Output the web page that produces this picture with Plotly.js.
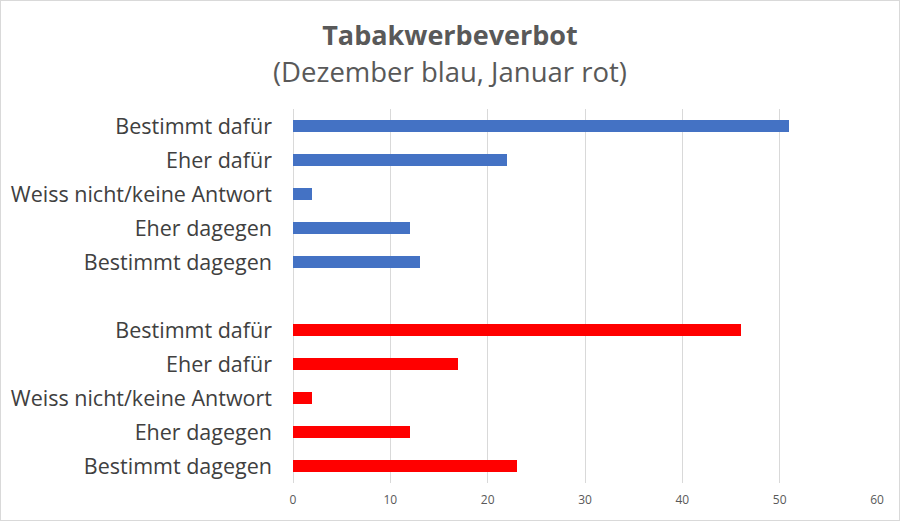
<!DOCTYPE html>
<html>
<head>
<meta charset="utf-8">
<script src="https://cdn.plot.ly/plotly-3.0.1.min.js"></script>
<style>
html,body{margin:0;padding:0;background:#fff;}
#chart{width:900px;height:521px;box-sizing:border-box;border:1px solid #d9d9d9;}
</style>
</head>
<body>
<div id="chart"></div>
<script>
const categories = ["Bestimmt dafür", "Eher dafür", "Weiss nicht/keine Antwort", "Eher dagegen", "Bestimmt dagegen"];
const dezember = [51, 22, 2, 12, 13];
const januar = [46, 17, 2, 12, 23];
const xTicks = [0, 10, 20, 30, 40, 50, 60];

const posDez = categories.map((c, i) => i);
const posJan = categories.map((c, i) => i + categories.length + 1);
const tickvals = posDez.concat(posJan);
const ticktext = categories.concat(categories);

const traces = [
  {type: 'bar', orientation: 'h', name: 'Dezember', x: dezember, y: posDez,
   marker: {color: '#4472C4'}, width: 0.36, hoverinfo: 'x'},
  {type: 'bar', orientation: 'h', name: 'Januar', x: januar, y: posJan,
   marker: {color: '#FF0000'}, width: 0.36, hoverinfo: 'x'}
];

const layout = {
  width: 898, height: 519,
  margin: {l: 292, r: 22, t: 108, b: 37},
  paper_bgcolor: '#fff', plot_bgcolor: '#fff',
  showlegend: false,
  bargap: 0,
  title: {text: '<b>Tabakwerbeverbot</b>', x: 0.5, xref: 'container', xanchor: 'center',
          y: 0.9326, yref: 'container', yanchor: 'middle',
          font: {family: 'Open Sans, sans-serif', size: 27, color: '#595959'}},
  annotations: [{text: '(Dezember blau, Januar rot)', xref: 'paper', yref: 'paper',
    x: (449 - 292) / 584, y: 1.099, yanchor: 'middle', xanchor: 'center', showarrow: false,
    font: {family: 'Open Sans, sans-serif', size: 27.5, color: '#595959'}}],
  xaxis: {range: [0, 60], tickvals: xTicks, ticktext: xTicks.map(String),
          showgrid: true, gridcolor: '#d9d9d9', gridwidth: 1,
          zeroline: true, zerolinecolor: '#d9d9d9', zerolinewidth: 1,
          showline: false, ticks: '', ticklabelstandoff: 8,
          tickfont: {family: 'Open Sans, sans-serif', size: 12, color: '#595959'}},
  yaxis: {range: [10.5, -0.5], tickvals: tickvals, ticktext: ticktext,
          showgrid: false, zeroline: false, showline: false, ticks: '',
          ticklabelstandoff: 20,
          tickfont: {family: 'Open Sans, sans-serif', size: 21.5, color: '#404040'}}
};

Plotly.newPlot('chart', traces, layout, {displayModeBar: false, staticPlot: true});
</script>
</body>
</html>
